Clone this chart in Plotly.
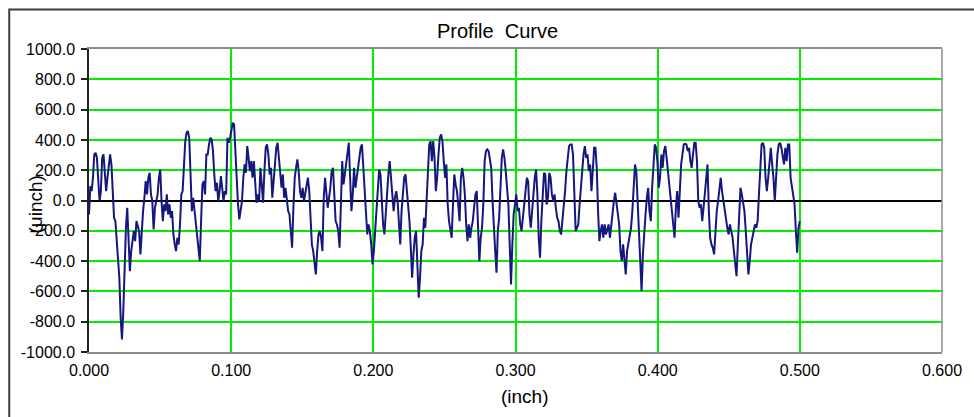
import numpy as np
import plotly.graph_objects as go

# Profile heights (micro-inch), sampled uniformly from 0.000 to 0.500 inch
profile_a = [-92, 95, 62, 150, 304, 315, 282, 150, -4, 62, 282, 304, 194, 62, 150, 216, 304, 238, 84, -114,
             -136, -246, -378, -510, -774, -917, -730, -422, -180, -48, -268, -466, -334, -246, -202, -268, -136, -169, -202, -356,
             -202, -70, 18, 128, 40, 150, 183, 40, -4, -191, -48, -4, 40, 150, 205, -4, -136, -26, -70, 40,
             -92, -26, -114, -70, -224, -290, -334, -246, -290, -158, 40, 62, 216, 392, 447, 458, 414, 150, -70, 18,
             -70, -136, -202, -312, -400, -136, 106, 128, 40, 304]
profile_b = [304, 370, 414, 403, 326, 172, 62, 117, -4, 62, 161, 84, -4, 62, 40, 414, 381, 414, 469, 513,
             502, 326, 106, -26, -125, -70, -4, 150, 238, 183, 359, 282, 194, 260, 150, 260, 106, -15, 40, -4,
             216, 62, -15, 194, 348, 370, 304, 172, 216, 18, 150, 238, 348, 381, 282, 150, 84, 172, 18, 84,
             -4, -70, -92, -180, -312, -48, 150, 216, 271, 194, 62, 18, 84, -4, 51, 84, 150, 62, -136, -290,
             -334, -422, -488, -334, -224, -202, -246, -334, 18, 150]
profile_c = [40, -48, 18, 84, 194, 216, 40, -136, -158, -202, -312, 62, 260, 106, 172, 260, 326, 381, 150, -70,
             40, 216, 84, 172, 216, 282, 348, 370, 216, 40, -70, -224, -158, -202, -290, -422, -334, -202, -26, 84,
             205, 172, -4, -158, -224, -70, 84, 172, 260, 128, 40, -70, 18, 62, -4, -158, -290, -70, 40, 150,
             172, 84, -48, -136, -312, -510, -356, -246, -202, -400, -642, -510, -334, -290, -114, -180, -4, 128, 370, 392,
             260, 392, 282, 62, 150, 304, 414, 436, 392, 260]
profile_d = [150, 238, -26, -136, -180, -246, -26, 172, 106, 62, -26, -136, 150, 216, 150, 40, -158, -268, -158, -246,
             -180, -136, -48, 40, 62, -136, -400, -246, -180, -26, 260, 326, 337, 326, 260, 216, -4, -224, -334, -477,
             -202, -114, 150, 282, 337, 282, 194, 106, -26, -290, -554, -290, -92, -26, 40, -70, -48, -158, -202, -114,
             -26, 84, 150, 128, -92, -180, -70, 62, 150, 205, 40, -246, -378, -136, 62, 183, 172, -26, 18, 183,
             150, 40, -4, 40, -48, -114, -136, -202, -224, -136, -48, 62]
profile_e = [194, 304, 359, 370, 370, 304, 40, -202, -180, -158, -26, 84, 216, 304, 359, 282, 304, 194, 238, 62,
             194, 348, 348, 216, -70, -268, -202, -158, -246, -158, -224, -180, -158, -246, -158, -70, -4, 51, -26, -92,
             -158, -334, -400, -290, -400, -488, -334, -290, -246, -180, -70, 62, 238, 194, -4, -246, -400, -598, -356, -202,
             -92, 18, 84, -70, -136, 84, 260, 370, 348, 260, 84, 150, 304, 216, 326, 359, 282, 194, 106, 62,
             -26, -158, -246, -48, 62, -114, 40, 238, 304, 370]
profile_f = [374, 370, 326, 348, 260, 216, 304, 381, 381, 260, -4, -48, -26, -136, -48, 40, 150, 238, -70, -246,
             -290, -312, -356, -202, -70, -4, 62, 150, 62, -4, -48, -114, -180, -224, -158, -202, -246, -334, -422, -499,
             -290, -70, 84, 40, -4, -70, -202, -400, -488, -400, -290, -246, -202, -158, -180, -136, 40, 238, 370, 381,
             348, 150, 62, 150, 260, 348, 238, 150, -4, 150, 304, 370, 381, 348, 304, 238, 348, 260, 370, 370,
             150, 84, 40, -26, -202, -345, -180, -136]

profile_uinch = profile_a + profile_b + profile_c + profile_d + profile_e + profile_f
x_start, x_end = 0.0, 0.5
position_inch = np.linspace(x_start, x_end, len(profile_uinch))

y_ticks = list(range(-1000, 1001, 200))
y_tick_labels = [f"{v:.1f}" for v in y_ticks]
x_ticks = [0.0, 0.1, 0.2, 0.3, 0.4, 0.5, 0.6]
x_tick_labels = [f"{v:.3f}" for v in x_ticks]

title_text = "Profile  Curve"
x_title = "(inch)"
y_title = "(\u03bcinch)"

FONT = "Liberation Sans, Arial, sans-serif"

fig = go.Figure()
fig.add_trace(go.Scatter(
    x=position_inch, y=profile_uinch, mode="lines",
    line=dict(color="#16167f", width=2),
    hoverinfo="skip", showlegend=False,
))

W, H = 974, 417
L, R, T, B = 89, 24, 49, 65
pw, ph = W - L - R, H - T - B

def px_x(px):
    return (px - L) / pw

def px_y(py):
    return (H - B - py) / ph

fig.update_layout(
    width=W, height=H,
    margin=dict(l=L, r=R, t=T, b=B, pad=0),
    paper_bgcolor="white", plot_bgcolor="white",
    font=dict(family=FONT, color="#000000"),
    showlegend=False,
    xaxis=dict(
        range=[0, 0.6], tickvals=x_ticks, ticktext=x_tick_labels,
        showgrid=True, gridcolor="#00ee00", gridwidth=2,
        zeroline=False, showline=True, linecolor="#8c8c8c", linewidth=1.5, mirror=True,
        ticks="", tickfont=dict(size=16, color="#000000"), ticklabelstandoff=3,
    ),
    yaxis=dict(
        range=[-1000, 1000], tickvals=y_ticks, ticktext=y_tick_labels,
        showgrid=True, gridcolor="#00ee00", gridwidth=2,
        zeroline=True, zerolinecolor="#000000", zerolinewidth=1.5,
        showline=True, linecolor="#222222", linewidth=1.5, mirror=False,
        ticks="outside", ticklen=6, tickwidth=1.5, tickcolor="#222222",
        tickfont=dict(size=16, color="#000000"), ticklabelstandoff=3,
    ),
    annotations=[
        dict(text=title_text, xref="paper", yref="paper", x=px_x(501), y=px_y(31),
             xanchor="center", yanchor="middle", showarrow=False,
             font=dict(size=20, color="#000000", family=FONT)),
        dict(text=x_title, xref="paper", yref="paper", x=px_x(529), y=px_y(396),
             xanchor="center", yanchor="middle", showarrow=False,
             font=dict(size=19, color="#000000", family=FONT)),
        dict(text=y_title, xref="paper", yref="paper", x=px_x(34), y=px_y(205),
             xanchor="center", yanchor="middle", showarrow=False, textangle=-90,
             font=dict(size=19, color="#000000", family=FONT)),
    ],
    shapes=[
        dict(type="line", xref="paper", yref="paper", x0=1, x1=1, y0=0, y1=1,
             line=dict(color="#8c8c8c", width=1.5), layer="above"),
        dict(type="path", xref="paper", yref="paper",
             path=f"M {px_x(8.5)},{px_y(430)} L {px_x(8.5)},{px_y(9.5)} L {px_x(990)},{px_y(9.5)}",
             line=dict(color="#3c3c3c", width=2)),
    ],
)

fig.write_html("out.html")
